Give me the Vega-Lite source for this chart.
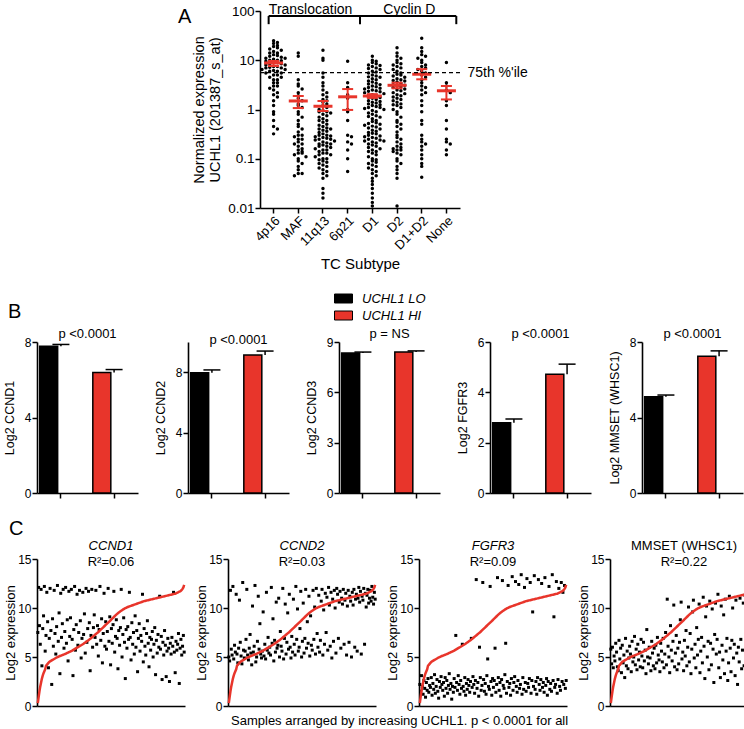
{
"$schema":"https://vega.github.io/schema/vega-lite/v6.json",
"background":"white",
"padding":{"left":3,"top":2,"right":0,"bottom":2},
"config":{
 "font":"Liberation Sans",
 "view":{"stroke":null},
 "axis":{"domainColor":"black","domainWidth":1.6,"tickColor":"black","tickWidth":1.5,"tickSize":5,"labelColor":"black","labelFont":"Liberation Sans","labelFontSize":12,"labelPadding":1,"titleFont":"Liberation Sans","titleFontWeight":"normal","titleColor":"black","titleFontSize":13,"grid":false},
 "title":{"font":"Liberation Sans","fontWeight":"normal","color":"black","fontSize":13,"subtitleFont":"Liberation Sans","subtitleColor":"black","subtitleFontSize":13,"subtitlePadding":0},
 "legend":{"labelFont":"Liberation Sans","labelColor":"black"},
 "tick":{"opacity":1}
},
"datasets":{
"pa":[
{"c":"4p16","v":25},{"c":"4p16","v":22},{"c":"4p16","v":23},{"c":"4p16","v":20},{"c":"4p16","v":19},{"c":"4p16","v":18},{"c":"4p16","v":17},{"c":"4p16","v":16},{"c":"4p16","v":15},{"c":"4p16","v":14},{"c":"4p16","v":14},{"c":"4p16","v":13},{"c":"4p16","v":12.5},{"c":"4p16","v":12},{"c":"4p16","v":11.5},{"c":"4p16","v":11},{"c":"4p16","v":11},{"c":"4p16","v":10.5},{"c":"4p16","v":10},{"c":"4p16","v":10},{"c":"4p16","v":9.8},{"c":"4p16","v":9.5},{"c":"4p16","v":9},{"c":"4p16","v":9},{"c":"4p16","v":8.5},{"c":"4p16","v":8.5},{"c":"4p16","v":8},{"c":"4p16","v":8},{"c":"4p16","v":7.5},{"c":"4p16","v":7.5},{"c":"4p16","v":7.2},{"c":"4p16","v":7},{"c":"4p16","v":7},{"c":"4p16","v":6.5},{"c":"4p16","v":6.5},{"c":"4p16","v":6.2},{"c":"4p16","v":6},{"c":"4p16","v":6},{"c":"4p16","v":5.5},{"c":"4p16","v":5.5},{"c":"4p16","v":5},{"c":"4p16","v":5},{"c":"4p16","v":4.5},{"c":"4p16","v":4.5},{"c":"4p16","v":4},{"c":"4p16","v":4},{"c":"4p16","v":3.5},{"c":"4p16","v":3.5},{"c":"4p16","v":3},{"c":"4p16","v":3},{"c":"4p16","v":2.7},{"c":"4p16","v":2.5},{"c":"4p16","v":2.2},{"c":"4p16","v":2},{"c":"4p16","v":1.8},{"c":"4p16","v":1.5},{"c":"4p16","v":1.2},{"c":"4p16","v":0.9},{"c":"4p16","v":0.8},{"c":"4p16","v":0.6},{"c":"4p16","v":0.45},{"c":"4p16","v":0.4},{"c":"4p16","v":0.32},
{"c":"MAF","v":14},{"c":"MAF","v":12},{"c":"MAF","v":4},{"c":"MAF","v":3.3},{"c":"MAF","v":3},{"c":"MAF","v":2.6},{"c":"MAF","v":2.2},{"c":"MAF","v":1.9},{"c":"MAF","v":1.7},{"c":"MAF","v":1.5},{"c":"MAF","v":1.3},{"c":"MAF","v":1.2},{"c":"MAF","v":1.1},{"c":"MAF","v":0.9},{"c":"MAF","v":0.8},{"c":"MAF","v":0.7},{"c":"MAF","v":0.6},{"c":"MAF","v":0.5},{"c":"MAF","v":0.45},{"c":"MAF","v":0.4},{"c":"MAF","v":0.35},{"c":"MAF","v":0.3},{"c":"MAF","v":0.3},{"c":"MAF","v":0.28},{"c":"MAF","v":0.25},{"c":"MAF","v":0.25},{"c":"MAF","v":0.22},{"c":"MAF","v":0.2},{"c":"MAF","v":0.2},{"c":"MAF","v":0.18},{"c":"MAF","v":0.16},{"c":"MAF","v":0.15},{"c":"MAF","v":0.14},{"c":"MAF","v":0.13},{"c":"MAF","v":0.13},{"c":"MAF","v":0.12},{"c":"MAF","v":0.11},{"c":"MAF","v":0.1},{"c":"MAF","v":0.09},{"c":"MAF","v":0.08},{"c":"MAF","v":0.07},{"c":"MAF","v":0.06},{"c":"MAF","v":0.05},{"c":"MAF","v":0.05},{"c":"MAF","v":0.045},
{"c":"11q13","v":16},{"c":"11q13","v":11},{"c":"11q13","v":10},{"c":"11q13","v":5.5},{"c":"11q13","v":4.5},{"c":"11q13","v":3.5},{"c":"11q13","v":3},{"c":"11q13","v":2.5},{"c":"11q13","v":2.2},{"c":"11q13","v":2},{"c":"11q13","v":1.8},{"c":"11q13","v":1.6},{"c":"11q13","v":1.5},{"c":"11q13","v":1.4},{"c":"11q13","v":1.3},{"c":"11q13","v":1.2},{"c":"11q13","v":1.1},{"c":"11q13","v":1},{"c":"11q13","v":0.95},{"c":"11q13","v":0.9},{"c":"11q13","v":0.9},{"c":"11q13","v":0.85},{"c":"11q13","v":0.8},{"c":"11q13","v":0.75},{"c":"11q13","v":0.7},{"c":"11q13","v":0.65},{"c":"11q13","v":0.6},{"c":"11q13","v":0.6},{"c":"11q13","v":0.55},{"c":"11q13","v":0.5},{"c":"11q13","v":0.48},{"c":"11q13","v":0.45},{"c":"11q13","v":0.42},{"c":"11q13","v":0.4},{"c":"11q13","v":0.4},{"c":"11q13","v":0.38},{"c":"11q13","v":0.36},{"c":"11q13","v":0.34},{"c":"11q13","v":0.32},{"c":"11q13","v":0.3},{"c":"11q13","v":0.3},{"c":"11q13","v":0.29},{"c":"11q13","v":0.28},{"c":"11q13","v":0.27},{"c":"11q13","v":0.26},{"c":"11q13","v":0.25},{"c":"11q13","v":0.25},{"c":"11q13","v":0.24},{"c":"11q13","v":0.23},{"c":"11q13","v":0.22},{"c":"11q13","v":0.21},{"c":"11q13","v":0.2},{"c":"11q13","v":0.2},{"c":"11q13","v":0.19},{"c":"11q13","v":0.18},{"c":"11q13","v":0.18},{"c":"11q13","v":0.17},{"c":"11q13","v":0.16},{"c":"11q13","v":0.15},{"c":"11q13","v":0.15},{"c":"11q13","v":0.14},{"c":"11q13","v":0.13},{"c":"11q13","v":0.13},{"c":"11q13","v":0.12},{"c":"11q13","v":0.12},{"c":"11q13","v":0.11},{"c":"11q13","v":0.1},{"c":"11q13","v":0.1},{"c":"11q13","v":0.095},{"c":"11q13","v":0.09},{"c":"11q13","v":0.085},{"c":"11q13","v":0.08},{"c":"11q13","v":0.075},{"c":"11q13","v":0.07},{"c":"11q13","v":0.065},{"c":"11q13","v":0.06},{"c":"11q13","v":0.055},{"c":"11q13","v":0.05},{"c":"11q13","v":0.045},{"c":"11q13","v":0.04},{"c":"11q13","v":0.025},{"c":"11q13","v":0.02},{"c":"11q13","v":0.016},
{"c":"6p21","v":9.5},{"c":"6p21","v":3.5},{"c":"6p21","v":2.8},{"c":"6p21","v":2},{"c":"6p21","v":1.7},{"c":"6p21","v":1},{"c":"6p21","v":0.9},{"c":"6p21","v":0.6},{"c":"6p21","v":0.3},{"c":"6p21","v":0.28},{"c":"6p21","v":0.22},{"c":"6p21","v":0.2},{"c":"6p21","v":0.15},{"c":"6p21","v":0.1},{"c":"6p21","v":0.055},
{"c":"D1","v":12},{"c":"D1","v":10},{"c":"D1","v":9.5},{"c":"D1","v":9},{"c":"D1","v":8.5},{"c":"D1","v":8},{"c":"D1","v":7.8},{"c":"D1","v":7.5},{"c":"D1","v":7},{"c":"D1","v":6.8},{"c":"D1","v":6.5},{"c":"D1","v":6},{"c":"D1","v":5.8},{"c":"D1","v":5.5},{"c":"D1","v":5},{"c":"D1","v":4.8},{"c":"D1","v":4.6},{"c":"D1","v":4.5},{"c":"D1","v":4.2},{"c":"D1","v":4},{"c":"D1","v":3.8},{"c":"D1","v":3.6},{"c":"D1","v":3.4},{"c":"D1","v":3.3},{"c":"D1","v":3.2},{"c":"D1","v":3},{"c":"D1","v":2.9},{"c":"D1","v":2.8},{"c":"D1","v":2.7},{"c":"D1","v":2.6},{"c":"D1","v":2.5},{"c":"D1","v":2.4},{"c":"D1","v":2.35},{"c":"D1","v":2.3},{"c":"D1","v":2.2},{"c":"D1","v":2.1},{"c":"D1","v":2},{"c":"D1","v":1.9},{"c":"D1","v":1.8},{"c":"D1","v":1.75},{"c":"D1","v":1.7},{"c":"D1","v":1.6},{"c":"D1","v":1.5},{"c":"D1","v":1.45},{"c":"D1","v":1.4},{"c":"D1","v":1.35},{"c":"D1","v":1.3},{"c":"D1","v":1.25},{"c":"D1","v":1.2},{"c":"D1","v":1.15},{"c":"D1","v":1.1},{"c":"D1","v":1.1},{"c":"D1","v":1.05},{"c":"D1","v":1},{"c":"D1","v":0.95},{"c":"D1","v":0.9},{"c":"D1","v":0.85},{"c":"D1","v":0.8},{"c":"D1","v":0.75},{"c":"D1","v":0.72},{"c":"D1","v":0.7},{"c":"D1","v":0.65},{"c":"D1","v":0.6},{"c":"D1","v":0.57},{"c":"D1","v":0.54},{"c":"D1","v":0.52},{"c":"D1","v":0.5},{"c":"D1","v":0.48},{"c":"D1","v":0.46},{"c":"D1","v":0.44},{"c":"D1","v":0.42},{"c":"D1","v":0.4},{"c":"D1","v":0.38},{"c":"D1","v":0.36},{"c":"D1","v":0.34},{"c":"D1","v":0.33},{"c":"D1","v":0.32},{"c":"D1","v":0.3},{"c":"D1","v":0.29},{"c":"D1","v":0.28},{"c":"D1","v":0.27},{"c":"D1","v":0.26},{"c":"D1","v":0.25},{"c":"D1","v":0.24},{"c":"D1","v":0.23},{"c":"D1","v":0.23},{"c":"D1","v":0.22},{"c":"D1","v":0.21},{"c":"D1","v":0.2},{"c":"D1","v":0.19},{"c":"D1","v":0.18},{"c":"D1","v":0.17},{"c":"D1","v":0.16},{"c":"D1","v":0.15},{"c":"D1","v":0.14},{"c":"D1","v":0.14},{"c":"D1","v":0.13},{"c":"D1","v":0.12},{"c":"D1","v":0.11},{"c":"D1","v":0.1},{"c":"D1","v":0.095},{"c":"D1","v":0.09},{"c":"D1","v":0.085},{"c":"D1","v":0.08},{"c":"D1","v":0.075},{"c":"D1","v":0.07},{"c":"D1","v":0.065},{"c":"D1","v":0.06},{"c":"D1","v":0.055},{"c":"D1","v":0.05},{"c":"D1","v":0.045},{"c":"D1","v":0.04},{"c":"D1","v":0.035},{"c":"D1","v":0.03},{"c":"D1","v":0.025},{"c":"D1","v":0.02},{"c":"D1","v":0.016},{"c":"D1","v":0.013},{"c":"D1","v":0.011},
{"c":"D2","v":18},{"c":"D2","v":14},{"c":"D2","v":12},{"c":"D2","v":11},{"c":"D2","v":10},{"c":"D2","v":9},{"c":"D2","v":8.5},{"c":"D2","v":8},{"c":"D2","v":7.5},{"c":"D2","v":7},{"c":"D2","v":6.5},{"c":"D2","v":6},{"c":"D2","v":5.5},{"c":"D2","v":5.2},{"c":"D2","v":5},{"c":"D2","v":4.8},{"c":"D2","v":4.5},{"c":"D2","v":4.2},{"c":"D2","v":4},{"c":"D2","v":3.9},{"c":"D2","v":3.8},{"c":"D2","v":3.6},{"c":"D2","v":3.4},{"c":"D2","v":3.2},{"c":"D2","v":3.1},{"c":"D2","v":3},{"c":"D2","v":2.9},{"c":"D2","v":2.8},{"c":"D2","v":2.6},{"c":"D2","v":2.5},{"c":"D2","v":2.4},{"c":"D2","v":2.2},{"c":"D2","v":2.1},{"c":"D2","v":2},{"c":"D2","v":1.9},{"c":"D2","v":1.8},{"c":"D2","v":1.7},{"c":"D2","v":1.6},{"c":"D2","v":1.5},{"c":"D2","v":1.4},{"c":"D2","v":1.3},{"c":"D2","v":1.25},{"c":"D2","v":1.2},{"c":"D2","v":1.1},{"c":"D2","v":1},{"c":"D2","v":0.9},{"c":"D2","v":0.8},{"c":"D2","v":0.7},{"c":"D2","v":0.6},{"c":"D2","v":0.55},{"c":"D2","v":0.5},{"c":"D2","v":0.45},{"c":"D2","v":0.4},{"c":"D2","v":0.35},{"c":"D2","v":0.3},{"c":"D2","v":0.27},{"c":"D2","v":0.25},{"c":"D2","v":0.22},{"c":"D2","v":0.2},{"c":"D2","v":0.18},{"c":"D2","v":0.17},{"c":"D2","v":0.16},{"c":"D2","v":0.15},{"c":"D2","v":0.15},{"c":"D2","v":0.14},{"c":"D2","v":0.13},{"c":"D2","v":0.12},{"c":"D2","v":0.1},{"c":"D2","v":0.09},{"c":"D2","v":0.08},{"c":"D2","v":0.07},{"c":"D2","v":0.06},{"c":"D2","v":0.05},{"c":"D2","v":0.04},{"c":"D2","v":0.011},
{"c":"D1+D2","v":28},{"c":"D1+D2","v":18},{"c":"D1+D2","v":15},{"c":"D1+D2","v":13},{"c":"D1+D2","v":12},{"c":"D1+D2","v":11},{"c":"D1+D2","v":10},{"c":"D1+D2","v":9},{"c":"D1+D2","v":8},{"c":"D1+D2","v":7.5},{"c":"D1+D2","v":7},{"c":"D1+D2","v":6.5},{"c":"D1+D2","v":6},{"c":"D1+D2","v":5.5},{"c":"D1+D2","v":5},{"c":"D1+D2","v":4.5},{"c":"D1+D2","v":4},{"c":"D1+D2","v":3.5},{"c":"D1+D2","v":3},{"c":"D1+D2","v":2.8},{"c":"D1+D2","v":2.5},{"c":"D1+D2","v":2.2},{"c":"D1+D2","v":2},{"c":"D1+D2","v":1.5},{"c":"D1+D2","v":1.2},{"c":"D1+D2","v":0.9},{"c":"D1+D2","v":0.6},{"c":"D1+D2","v":0.5},{"c":"D1+D2","v":0.3},{"c":"D1+D2","v":0.25},{"c":"D1+D2","v":0.22},{"c":"D1+D2","v":0.2},{"c":"D1+D2","v":0.18},{"c":"D1+D2","v":0.15},{"c":"D1+D2","v":0.12},{"c":"D1+D2","v":0.1},{"c":"D1+D2","v":0.08},{"c":"D1+D2","v":0.07},{"c":"D1+D2","v":0.042},
{"c":"None","v":9},{"c":"None","v":3.5},{"c":"None","v":3},{"c":"None","v":2.5},{"c":"None","v":2.2},{"c":"None","v":1.5},{"c":"None","v":1.2},{"c":"None","v":0.6},{"c":"None","v":0.4},{"c":"None","v":0.25},{"c":"None","v":0.22},{"c":"None","v":0.2},{"c":"None","v":0.15},{"c":"None","v":0.12}
],
"pam":[
{"c":"4p16","m":8.8,"lo":7.6,"hi":9.7},{"c":"MAF","m":1.49,"lo":1.07,"hi":1.88},{"c":"11q13","m":1.17,"lo":0.93,"hi":1.49},{"c":"6p21","m":1.81,"lo":0.98,"hi":2.6},{"c":"D1","m":1.88,"lo":1.72,"hi":2.05},{"c":"D2","m":3.1,"lo":2.7,"hi":3.5},{"c":"D1+D2","m":5.2,"lo":4.1,"hi":6.6},{"c":"None","m":2.4,"lo":1.6,"hi":3.0}
],
"pb":[
{"gene":"CCND1","g":"UCHL1 LO","m":7.78,"hi":7.87},{"gene":"CCND1","g":"UCHL1 HI","m":6.39,"hi":6.54},
{"gene":"CCND2","g":"UCHL1 LO","m":7.97,"hi":8.15},{"gene":"CCND2","g":"UCHL1 HI","m":9.14,"hi":9.4},
{"gene":"CCND3","g":"UCHL1 LO","m":8.35,"hi":8.4},{"gene":"CCND3","g":"UCHL1 HI","m":8.41,"hi":8.47},
{"gene":"FGFR3","g":"UCHL1 LO","m":2.79,"hi":2.94},{"gene":"FGFR3","g":"UCHL1 HI","m":4.72,"hi":5.12},
{"gene":"MMSET","g":"UCHL1 LO","m":5.1,"hi":5.19},{"gene":"MMSET","g":"UCHL1 HI","m":7.25,"hi":7.53}
],
"pc":[
{"u":0.3,"a":7.5,"b":5.0,"f":2.2,"m":5.8},{"u":0.9,"a":12.1,"b":4.6,"f":1.5,"m":4.3},{"u":1.5,"a":8.2,"b":11.8,"f":3.1,"m":6.0},{"u":2.0,"a":6.3,"b":5.8,"f":2.0,"m":3.9},{"u":2.4,"a":11.9,"b":5.2,"f":1.2,"m":5.1},{"u":2.8,"a":4.1,"b":12.2,"f":2.6,"m":4.6},{"u":3.1,"a":7.9,"b":4.8,"f":1.8,"m":6.4},{"u":3.35,"a":9.2,"b":6.2,"f":0.9,"m":5.5},{"u":3.55,"a":12.2,"b":5.5,"f":2.4,"m":4.0},{"u":3.75,"a":5.6,"b":11.4,"f":1.6,"m":3.6},
{"u":4.1,"a":7.2,"b":5.3,"f":2.8,"m":6.7},{"u":4.2,"a":11.6,"b":4.4,"f":1.4,"m":4.8},{"u":4.3,"a":8.6,"b":5.9,"f":2.1,"m":5.9},{"u":4.4,"a":3.9,"b":10.8,"f":1.9,"m":3.4},{"u":4.5,"a":6.9,"b":6.5,"f":2.9,"m":6.2},{"u":4.55,"a":12.0,"b":5.1,"f":1.1,"m":4.4},{"u":4.6,"a":7.7,"b":4.3,"f":2.3,"m":5.2},{"u":4.65,"a":2.2,"b":12.6,"f":1.7,"m":2.9},{"u":4.7,"a":8.9,"b":5.7,"f":3.2,"m":6.9},{"u":4.75,"a":6.1,"b":4.9,"f":1.3,"m":4.1},
{"u":4.8,"a":11.8,"b":5.6,"f":2.0,"m":5.6},{"u":4.85,"a":7.4,"b":6.8,"f":2.7,"m":3.8},{"u":4.9,"a":5.3,"b":11.9,"f":1.5,"m":4.9},{"u":4.95,"a":8.1,"b":5.2,"f":0.8,"m":6.1},{"u":4.98,"a":12.3,"b":4.7,"f":2.5,"m":5.3},{"u":5.02,"a":6.6,"b":5.9,"f":1.9,"m":3.5},{"u":5.06,"a":9.5,"b":7.3,"f":3.0,"m":6.6},{"u":5.1,"a":3.3,"b":5.4,"f":2.2,"m":4.5},{"u":5.13,"a":11.5,"b":4.2,"f":1.6,"m":5.0},{"u":5.16,"a":7.0,"b":10.2,"f":2.4,"m":7.1},
{"u":5.2,"a":8.4,"b":5.5,"f":1.0,"m":4.2},{"u":5.23,"a":11.9,"b":6.1,"f":2.9,"m":5.8},{"u":5.26,"a":5.9,"b":12.3,"f":1.8,"m":3.7},{"u":5.3,"a":7.6,"b":4.5,"f":2.6,"m":6.3},{"u":5.33,"a":12.1,"b":5.0,"f":1.3,"m":4.7},{"u":5.37,"a":6.4,"b":6.6,"f":2.1,"m":5.5},{"u":5.41,"a":8.8,"b":11.2,"f":3.3,"m":4.0},{"u":5.45,"a":4.6,"b":5.8,"f":1.7,"m":6.8},{"u":5.49,"a":11.7,"b":8.4,"f":2.3,"m":5.1},{"u":5.53,"a":7.1,"b":5.3,"f":0.7,"m":3.9},
{"u":5.57,"a":9.0,"b":4.9,"f":2.0,"m":6.5},{"u":5.61,"a":11.9,"b":5.6,"f":1.4,"m":4.6},{"u":5.65,"a":6.8,"b":9.6,"f":2.8,"m":5.7},{"u":5.7,"a":3.1,"b":5.1,"f":1.9,"m":3.3},{"u":5.75,"a":7.8,"b":6.3,"f":7.2,"m":7.8},{"u":5.8,"a":12.2,"b":4.8,"f":2.4,"m":5.0},{"u":5.85,"a":5.7,"b":11.6,"f":1.6,"m":4.3},{"u":5.9,"a":8.3,"b":5.7,"f":3.1,"m":6.0},{"u":5.95,"a":11.4,"b":7.0,"f":2.2,"m":4.9},{"u":6.0,"a":6.2,"b":5.4,"f":1.2,"m":3.6},
{"u":6.05,"a":7.5,"b":6.0,"f":2.6,"m":6.6},{"u":6.1,"a":11.8,"b":5.2,"f":1.8,"m":5.4},{"u":6.15,"a":8.7,"b":12.1,"f":6.3,"m":4.1},{"u":6.2,"a":4.9,"b":6.4,"f":2.0,"m":5.9},{"u":6.25,"a":6.9,"b":8.9,"f":1.5,"m":3.8},{"u":6.3,"a":11.6,"b":4.6,"f":2.9,"m":6.2},{"u":6.36,"a":7.3,"b":6.7,"f":1.1,"m":4.4},{"u":6.42,"a":9.4,"b":5.5,"f":2.3,"m":7.0},{"u":6.48,"a":5.4,"b":10.6,"f":1.7,"m":5.2},{"u":6.54,"a":12.0,"b":5.9,"f":2.7,"m":4.7},
{"u":6.6,"a":6.5,"b":6.2,"f":2.1,"m":3.5},{"u":6.66,"a":7.9,"b":11.0,"f":1.4,"m":6.4},{"u":6.72,"a":11.7,"b":5.0,"f":2.5,"m":5.6},{"u":6.78,"a":8.5,"b":7.6,"f":6.9,"m":4.5},{"u":6.85,"a":3.6,"b":6.1,"f":1.9,"m":6.9},{"u":6.92,"a":7.2,"b":5.6,"f":3.0,"m":3.9},{"u":6.99,"a":11.9,"b":12.0,"f":2.2,"m":5.3},{"u":7.06,"a":6.0,"b":4.8,"f":1.3,"m":7.5},{"u":7.13,"a":8.0,"b":6.9,"f":2.6,"m":4.2},{"u":7.2,"a":9.3,"b":10.4,"f":12.9,"m":10.9},
{"u":7.27,"a":7.0,"b":5.3,"f":1.8,"m":6.1},{"u":7.34,"a":11.8,"b":6.5,"f":2.4,"m":5.0},{"u":7.41,"a":6.3,"b":9.5,"f":1.0,"m":3.4},{"u":7.48,"a":8.2,"b":5.8,"f":6.0,"m":8.2},{"u":7.55,"a":5.1,"b":11.4,"f":2.9,"m":5.7},{"u":7.63,"a":7.8,"b":6.0,"f":1.6,"m":4.6},{"u":7.71,"a":12.2,"b":4.9,"f":2.1,"m":6.6},{"u":7.79,"a":6.7,"b":7.1,"f":12.6,"m":10.3},{"u":7.87,"a":8.9,"b":5.5,"f":2.7,"m":4.0},{"u":7.95,"a":4.4,"b":10.9,"f":1.5,"m":5.4},
{"u":8.03,"a":7.4,"b":6.3,"f":2.3,"m":7.2},{"u":8.11,"a":11.5,"b":5.2,"f":1.2,"m":3.7},{"u":8.19,"a":6.1,"b":12.2,"f":3.1,"m":5.9},{"u":8.27,"a":8.6,"b":6.8,"f":4.8,"m":4.3},{"u":8.35,"a":5.8,"b":9.9,"f":2.0,"m":6.5},{"u":8.43,"a":7.6,"b":5.6,"f":1.7,"m":8.8},{"u":8.51,"a":12.0,"b":6.0,"f":12.2,"m":10.6},{"u":8.59,"a":6.6,"b":7.9,"f":2.5,"m":4.8},{"u":8.67,"a":9.1,"b":11.7,"f":1.1,"m":5.5},{"u":8.75,"a":4.2,"b":5.0,"f":2.8,"m":3.6},
{"u":8.84,"a":7.9,"b":6.6,"f":1.9,"m":6.7},{"u":8.92,"a":6.4,"b":10.5,"f":2.6,"m":5.1},{"u":9.0,"a":8.3,"b":5.4,"f":5.9,"m":7.7},{"u":9.08,"a":11.7,"b":6.9,"f":1.4,"m":4.1},{"u":9.16,"a":5.5,"b":11.9,"f":2.2,"m":6.0},{"u":9.24,"a":7.1,"b":5.9,"f":13.1,"m":10.1},{"u":9.32,"a":8.8,"b":8.6,"f":2.9,"m":4.5},{"u":9.4,"a":6.9,"b":6.4,"f":1.6,"m":7.4},{"u":9.47,"a":3.8,"b":11.2,"f":2.4,"m":3.3},{"u":9.54,"a":7.7,"b":5.1,"f":1.0,"m":5.8},
{"u":9.6,"a":6.2,"b":9.2,"f":2.7,"m":9.6},{"u":9.66,"a":8.0,"b":6.2,"f":12.8,"m":10.8},{"u":9.72,"a":11.9,"b":5.7,"f":2.1,"m":4.9},{"u":9.78,"a":5.0,"b":11.8,"f":1.8,"m":6.3},{"u":9.84,"a":7.3,"b":6.8,"f":3.2,"m":3.9},{"u":9.89,"a":9.0,"b":10.1,"f":6.4,"m":8.0},{"u":9.94,"a":6.5,"b":5.3,"f":1.3,"m":5.2},{"u":9.98,"a":2.8,"b":12.0,"f":2.5,"m":6.8},{"u":10.02,"a":7.8,"b":7.4,"f":12.3,"m":10.4},{"u":10.06,"a":5.9,"b":6.0,"f":1.9,"m":3.4},
{"u":10.1,"a":8.1,"b":11.3,"f":2.3,"m":5.6},{"u":10.13,"a":6.8,"b":5.5,"f":1.1,"m":7.0},{"u":10.16,"a":11.6,"b":6.7,"f":2.8,"m":4.4},{"u":10.19,"a":7.0,"b":10.7,"f":13.2,"m":11.1},{"u":10.22,"a":4.7,"b":11.9,"f":1.6,"m":6.1},{"u":10.25,"a":8.5,"b":5.2,"f":2.4,"m":2.8},{"u":10.28,"a":6.3,"b":9.8,"f":3.0,"m":9.1},{"u":10.31,"a":7.5,"b":6.3,"f":12.7,"m":10.2},{"u":10.34,"a":5.3,"b":11.5,"f":2.0,"m":5.0},{"u":10.37,"a":9.2,"b":7.5,"f":1.4,"m":6.6},
{"u":10.4,"a":6.0,"b":11.1,"f":2.6,"m":3.7},{"u":10.43,"a":7.7,"b":5.7,"f":12.4,"m":10.7},{"u":10.46,"a":3.5,"b":12.1,"f":1.8,"m":6.4},{"u":10.49,"a":6.9,"b":10.3,"f":2.2,"m":4.2},{"u":10.52,"a":8.4,"b":6.1,"f":13.4,"m":9.9},{"u":10.55,"a":5.6,"b":11.6,"f":1.2,"m":5.8},{"u":10.58,"a":7.2,"b":4.9,"f":2.9,"m":2.4},{"u":10.61,"a":6.6,"b":10.9,"f":1.7,"m":7.3},{"u":10.64,"a":11.4,"b":6.6,"f":12.1,"m":10.5},{"u":10.67,"a":4.5,"b":11.8,"f":2.4,"m":5.3},
{"u":10.7,"a":7.9,"b":10.0,"f":1.5,"m":6.8},{"u":10.72,"a":6.1,"b":5.4,"f":13.0,"m":11.4},{"u":10.74,"a":5.2,"b":12.0,"f":2.3,"m":3.9},{"u":10.76,"a":7.4,"b":11.4,"f":1.9,"m":5.5},{"u":10.78,"a":8.7,"b":6.9,"f":2.8,"m":2.9},{"u":10.8,"a":6.4,"b":10.6,"f":12.6,"m":10.2},{"u":10.82,"a":4.0,"b":11.7,"f":1.3,"m":6.2},{"u":10.84,"a":7.0,"b":5.9,"f":2.6,"m":4.7},{"u":10.86,"a":5.7,"b":11.0,"f":9.6,"m":9.3},{"u":10.88,"a":6.8,"b":10.4,"f":2.0,"m":3.3},
{"u":10.9,"a":7.6,"b":11.9,"f":13.3,"m":10.9},{"u":10.92,"a":5.0,"b":6.3,"f":1.7,"m":5.6},{"u":10.94,"a":6.3,"b":10.8,"f":2.5,"m":6.9},{"u":10.96,"a":8.0,"b":11.5,"f":1.2,"m":2.6},{"u":10.98,"a":3.2,"b":5.2,"f":2.9,"m":4.4},{"u":11.0,"a":6.7,"b":10.2,"f":12.9,"m":11.2},{"u":11.02,"a":5.4,"b":11.8,"f":2.2,"m":5.9},{"u":11.04,"a":7.3,"b":6.5,"f":1.6,"m":3.5},{"u":11.06,"a":6.0,"b":11.2,"f":2.7,"m":6.7},{"u":11.08,"a":11.2,"b":10.7,"f":12.5,"m":10.0},
{"u":11.1,"a":5.8,"b":5.0,"f":1.9,"m":4.9},{"u":11.12,"a":7.1,"b":11.6,"f":2.4,"m":6.3},{"u":11.14,"a":2.7,"b":10.3,"f":1.4,"m":3.1},{"u":11.16,"a":6.5,"b":11.9,"f":13.1,"m":10.8},{"u":11.18,"a":5.2,"b":6.0,"f":2.1,"m":5.4},{"u":11.2,"a":7.7,"b":10.9,"f":2.8,"m":2.2},{"u":11.22,"a":6.2,"b":11.4,"f":1.1,"m":6.0},{"u":11.24,"a":3.0,"b":5.6,"f":2.5,"m":4.5},{"u":11.26,"a":5.6,"b":11.0,"f":12.2,"m":11.0},{"u":11.28,"a":6.9,"b":12.1,"f":1.7,"m":6.8},
{"u":11.3,"a":5.9,"b":10.6,"f":2.3,"m":3.8},{"u":11.32,"a":2.5,"b":11.7,"f":1.5,"m":5.7},{"u":11.34,"a":6.4,"b":5.3,"f":13.4,"m":10.5},{"u":11.36,"a":5.3,"b":11.2,"f":2.6,"m":4.1},{"u":11.38,"a":7.0,"b":10.8,"f":9.1,"m":11.3},{"u":11.4,"a":6.1,"b":12.0,"f":1.9,"m":6.5},{"u":11.42,"a":11.6,"b":6.3,"f":2.2,"m":2.5},{"u":11.44,"a":5.5,"b":11.5,"f":12.7,"m":10.3},{"u":11.46,"a":3.4,"b":10.1,"f":1.3,"m":5.1},{"u":11.5,"a":6.6,"b":11.3,"f":2.7,"m":6.2},
{"u":11.54,"a":5.7,"b":11.9,"f":12.0,"m":10.9},{"u":11.58,"a":6.3,"b":10.5,"f":2.0,"m":6.9},{"u":11.62,"a":7.4,"b":11.0,"f":1.6,"m":4.0},{"u":11.66,"a":2.3,"b":11.8,"f":12.6,"m":11.6},{"u":11.7,"a":5.9,"b":10.7,"f":2.5,"m":6.4},{"u":11.76,"a":6.8,"b":12.2,"f":11.6,"m":10.2},{"u":11.84,"a":5.2,"b":11.1,"f":2.2,"m":5.0},{"u":11.95,"a":6.1,"b":10.4,"f":12.3,"m":10.7},{"u":12.1,"a":7.2,"b":11.6,"f":1.8,"m":6.8},{"u":12.35,"a":5.5,"b":10.9,"f":2.6,"m":11.0}
]
},
"title":{"text":"Samples arranged by increasing UCHL1. p < 0.0001 for all","orient":"bottom","anchor":"middle","fontSize":13,"offset":3,"dx":17},
"spacing":20,
"vconcat":[
{"spacing":30,"vconcat":[
 {"spacing":13,"hconcat":[
  {"width":128,"height":10,"data":{"values":[]},"mark":{"type":"point","opacity":0},"encoding":{}},
  {"width":200,"height":197,
   "title":{"text":"A","anchor":"start","frame":"group","fontSize":20,"dx":-82,"offset":-24},
   "layer":[
    {"data":{"name":"pa"},
     "transform":[
      {"calculate":"floor(log(datum.v)/LN10/0.08)","as":"bin"},
      {"window":[{"op":"row_number","as":"r"}],"groupby":["c","bin"]},
      {"calculate":"datum.r % 2 == 0 ? datum.r/2 : -(datum.r-1)/2","as":"off"}
     ],
     "mark":{"type":"circle","size":12,"color":"black","opacity":1},
     "encoding":{
      "x":{"field":"c","type":"nominal","sort":["4p16","MAF","11q13","6p21","D1","D2","D1+D2","None"],"scale":{"type":"band","domain":["4p16","MAF","11q13","6p21","D1","D2","D1+D2","None"],"paddingInner":0,"paddingOuter":0.05},"axis":{"title":"TC Subtype","labelAngle":-45,"labelFontSize":13,"titleFontSize":15,"titlePadding":4}},
      "xOffset":{"field":"off","type":"quantitative","scale":{"domain":[-3.2,3.2]}},
      "y":{"field":"v","type":"quantitative","scale":{"type":"log","domain":[0.01,100],"nice":false},"axis":{"values":[0.01,0.1,1,10,100],"format":".2~f","title":["Normalized expression","UCHL1 (201387_s_at)"],"titleFontSize":14.5,"labelFontSize":13.5,"titlePadding":5}}
     }},
    {"data":{"name":"pam"},"mark":{"type":"rule","color":"#e8352b","strokeWidth":2},"encoding":{"x":{"field":"c","type":"nominal"},"y":{"field":"lo","type":"quantitative"},"y2":{"field":"hi"}}},
    {"data":{"name":"pam"},"mark":{"type":"tick","color":"#e8352b","thickness":2,"size":11,"opacity":1},"encoding":{"x":{"field":"c","type":"nominal"},"y":{"field":"lo","type":"quantitative"}}},
    {"data":{"name":"pam"},"mark":{"type":"tick","color":"#e8352b","thickness":2,"size":11,"opacity":1},"encoding":{"x":{"field":"c","type":"nominal"},"y":{"field":"hi","type":"quantitative"}}},
    {"data":{"name":"pam"},"mark":{"type":"tick","color":"#e8352b","thickness":3,"size":19,"opacity":1},"encoding":{"x":{"field":"c","type":"nominal"},"y":{"field":"m","type":"quantitative"}}},
    {"data":{"values":[{}]},"mark":{"type":"rule","strokeDash":[4,3],"strokeWidth":1.2,"color":"black"},"encoding":{"y":{"datum":5.6}}},
    {"data":{"values":[{}]},"mark":{"type":"text","text":"75th %'ile","align":"left","baseline":"middle","fontSize":14,"dx":21},"encoding":{"x":{"datum":"None"},"y":{"datum":5.6}}},
    {"data":{"values":[{}]},"mark":{"type":"rule","strokeWidth":2,"color":"black"},"encoding":{"x":{"datum":"4p16","bandPosition":0.3},"x2":{"datum":"D1","bandPosition":0},"y":{"datum":79}}},
    {"data":{"values":[{}]},"mark":{"type":"rule","strokeWidth":2,"color":"black"},"encoding":{"x":{"datum":"D1","bandPosition":0},"x2":{"datum":"None","bandPosition":0.9},"y":{"datum":79}}},
    {"data":{"values":[{}]},"mark":{"type":"rule","strokeWidth":2,"color":"black"},"encoding":{"x":{"datum":"4p16","bandPosition":0.3},"y":{"datum":79},"y2":{"datum":54}}},
    {"data":{"values":[{}]},"mark":{"type":"rule","strokeWidth":2,"color":"black"},"encoding":{"x":{"datum":"D1","bandPosition":0},"y":{"datum":79},"y2":{"datum":54}}},
    {"data":{"values":[{}]},"mark":{"type":"rule","strokeWidth":2,"color":"black"},"encoding":{"x":{"datum":"None","bandPosition":0.9},"y":{"datum":79},"y2":{"datum":54}}},
    {"data":{"values":[{}]},"mark":{"type":"text","text":"Translocation","align":"center","baseline":"alphabetic","fontSize":14},"encoding":{"x":{"datum":"MAF","bandPosition":1},"y":{"datum":88}}},
    {"data":{"values":[{}]},"mark":{"type":"text","text":"Cyclin D","align":"center","baseline":"alphabetic","fontSize":14},"encoding":{"x":{"datum":"D2","bandPosition":1},"y":{"datum":88}}}
   ]}
 ]},
 {"spacing":16,
  "title":{"text":"B","anchor":"start","frame":"bounds","fontSize":20,"dx":5,"offset":6},
  "hconcat":[
   {"width":101,"height":151,"title":{"text":"p <0.0001","offset":-5},"data":{"name":"pb"},"transform":[{"filter":"datum.gene=='CCND1'"}],
    "encoding":{"x":{"field":"g","type":"nominal","sort":["UCHL1 LO","UCHL1 HI"],"scale":{"type":"band","paddingInner":0.2,"paddingOuter":0.05},"axis":{"labels":false,"title":null}}},
    "layer":[
     {"mark":{"type":"bar","stroke":"black","strokeWidth":1.5},"encoding":{"y":{"field":"m","type":"quantitative","scale":{"domain":[0,8],"nice":false},"axis":{"values":[0,2,4,6,8],"title":"Log2 CCND1","minExtent":20,"maxExtent":20,"titlePadding":1,"titleFontSize":12.5}},"fill":{"field":"g","type":"nominal","scale":{"domain":["UCHL1 LO","UCHL1 HI"],"range":["#000000","#e8352b"]},"legend":{"orient":"none","legendX":297,"legendY":278,"title":null,"symbolType":"M-1,-0.5H1V0.5H-1Z","symbolSize":324,"symbolStrokeColor":"black","symbolStrokeWidth":1,"labelFontSize":13,"labelFontStyle":"italic","labelOffset":9,"rowPadding":0}}}},
     {"mark":{"type":"rule","strokeWidth":1.5,"color":"black"},"encoding":{"y":{"field":"m","type":"quantitative"},"y2":{"field":"hi"}}},
     {"mark":{"type":"tick","thickness":1.5,"size":17,"color":"black","opacity":1},"encoding":{"y":{"field":"hi","type":"quantitative"}}}
    ]},
   {"width":101,"height":151,"title":{"text":"p <0.0001","offset":-5},"data":{"name":"pb"},"transform":[{"filter":"datum.gene=='CCND2'"}],
    "encoding":{"x":{"field":"g","type":"nominal","sort":["UCHL1 LO","UCHL1 HI"],"scale":{"type":"band","paddingInner":0.2,"paddingOuter":0.05},"axis":{"labels":false,"title":null}}},
    "layer":[
     {"mark":{"type":"bar","stroke":"black","strokeWidth":1.5},"encoding":{"y":{"field":"m","type":"quantitative","scale":{"domain":[0,10],"nice":false},"axis":{"values":[0,2,4,6,8,10],"title":"Log2 CCND2","minExtent":20,"maxExtent":20,"titlePadding":1,"titleFontSize":12.5}},"fill":{"field":"g","type":"nominal","scale":{"domain":["UCHL1 LO","UCHL1 HI"],"range":["#000000","#e8352b"]},"legend":{"orient":"none","legendX":297,"legendY":278,"title":null,"symbolType":"M-1,-0.5H1V0.5H-1Z","symbolSize":324,"symbolStrokeColor":"black","symbolStrokeWidth":1,"labelFontSize":13,"labelFontStyle":"italic","labelOffset":9,"rowPadding":0}}}},
     {"mark":{"type":"rule","strokeWidth":1.5,"color":"black"},"encoding":{"y":{"field":"m","type":"quantitative"},"y2":{"field":"hi"}}},
     {"mark":{"type":"tick","thickness":1.5,"size":17,"color":"black","opacity":1},"encoding":{"y":{"field":"hi","type":"quantitative"}}}
    ]},
   {"width":101,"height":151,"title":{"text":"p = NS","offset":-5},"data":{"name":"pb"},"transform":[{"filter":"datum.gene=='CCND3'"}],
    "encoding":{"x":{"field":"g","type":"nominal","sort":["UCHL1 LO","UCHL1 HI"],"scale":{"type":"band","paddingInner":0.2,"paddingOuter":0.05},"axis":{"labels":false,"title":null}}},
    "layer":[
     {"mark":{"type":"bar","stroke":"black","strokeWidth":1.5},"encoding":{"y":{"field":"m","type":"quantitative","scale":{"domain":[0,9],"nice":false},"axis":{"values":[0,3,6,9],"title":"Log2 CCND3","minExtent":20,"maxExtent":20,"titlePadding":1,"titleFontSize":12.5}},"fill":{"field":"g","type":"nominal","scale":{"domain":["UCHL1 LO","UCHL1 HI"],"range":["#000000","#e8352b"]},"legend":{"orient":"none","legendX":297,"legendY":278,"title":null,"symbolType":"M-1,-0.5H1V0.5H-1Z","symbolSize":324,"symbolStrokeColor":"black","symbolStrokeWidth":1,"labelFontSize":13,"labelFontStyle":"italic","labelOffset":9,"rowPadding":0}}}},
     {"mark":{"type":"rule","strokeWidth":1.5,"color":"black"},"encoding":{"y":{"field":"m","type":"quantitative"},"y2":{"field":"hi"}}},
     {"mark":{"type":"tick","thickness":1.5,"size":17,"color":"black","opacity":1},"encoding":{"y":{"field":"hi","type":"quantitative"}}}
    ]},
   {"width":101,"height":151,"title":{"text":"p <0.0001","offset":-5},"data":{"name":"pb"},"transform":[{"filter":"datum.gene=='FGFR3'"}],
    "encoding":{"x":{"field":"g","type":"nominal","sort":["UCHL1 LO","UCHL1 HI"],"scale":{"type":"band","paddingInner":0.2,"paddingOuter":0.05},"axis":{"labels":false,"title":null}}},
    "layer":[
     {"mark":{"type":"bar","stroke":"black","strokeWidth":1.5},"encoding":{"y":{"field":"m","type":"quantitative","scale":{"domain":[0,6],"nice":false},"axis":{"values":[0,2,4,6],"title":"Log2 FGFR3","minExtent":20,"maxExtent":20,"titlePadding":1,"titleFontSize":12.5}},"fill":{"field":"g","type":"nominal","scale":{"domain":["UCHL1 LO","UCHL1 HI"],"range":["#000000","#e8352b"]},"legend":{"orient":"none","legendX":297,"legendY":278,"title":null,"symbolType":"M-1,-0.5H1V0.5H-1Z","symbolSize":324,"symbolStrokeColor":"black","symbolStrokeWidth":1,"labelFontSize":13,"labelFontStyle":"italic","labelOffset":9,"rowPadding":0}}}},
     {"mark":{"type":"rule","strokeWidth":1.5,"color":"black"},"encoding":{"y":{"field":"m","type":"quantitative"},"y2":{"field":"hi"}}},
     {"mark":{"type":"tick","thickness":1.5,"size":17,"color":"black","opacity":1},"encoding":{"y":{"field":"hi","type":"quantitative"}}}
    ]},
   {"width":101,"height":151,"title":{"text":"p <0.0001","offset":-5},"data":{"name":"pb"},"transform":[{"filter":"datum.gene=='MMSET'"}],
    "encoding":{"x":{"field":"g","type":"nominal","sort":["UCHL1 LO","UCHL1 HI"],"scale":{"type":"band","paddingInner":0.2,"paddingOuter":0.05},"axis":{"labels":false,"title":null}}},
    "layer":[
     {"mark":{"type":"bar","stroke":"black","strokeWidth":1.5},"encoding":{"y":{"field":"m","type":"quantitative","scale":{"domain":[0,8],"nice":false},"axis":{"values":[0,2,4,6,8],"title":"Log2 MMSET (WHSC1)","minExtent":20,"maxExtent":20,"titlePadding":1,"titleFontSize":12.5}},"fill":{"field":"g","type":"nominal","scale":{"domain":["UCHL1 LO","UCHL1 HI"],"range":["#000000","#e8352b"]},"legend":{"orient":"none","legendX":297,"legendY":278,"title":null,"symbolType":"M-1,-0.5H1V0.5H-1Z","symbolSize":324,"symbolStrokeColor":"black","symbolStrokeWidth":1,"labelFontSize":13,"labelFontStyle":"italic","labelOffset":9,"rowPadding":0}}}},
     {"mark":{"type":"rule","strokeWidth":1.5,"color":"black"},"encoding":{"y":{"field":"m","type":"quantitative"},"y2":{"field":"hi"}}},
     {"mark":{"type":"tick","thickness":1.5,"size":17,"color":"black","opacity":1},"encoding":{"y":{"field":"hi","type":"quantitative"}}}
    ]}
  ]}
]},
{"spacing":5,
 "title":{"text":"C","anchor":"start","frame":"bounds","fontSize":20,"dx":5,"offset":1},
 "hconcat":[
  {"width":148,"height":147,"title":{"text":"CCND1","subtitle":"R²=0.06","fontStyle":"italic","offset":-16},"data":{"name":"pc"},
   "transform":[{"window":[{"op":"row_number","as":"i"}],"sort":[{"field":"u","order":"ascending"}]}],
   "encoding":{"x":{"field":"i","type":"quantitative","scale":{"domain":[0,181],"nice":false},"axis":{"labels":false,"ticks":false,"title":null}}},
   "layer":[
    {"mark":{"type":"square","size":9,"color":"black","opacity":1},"encoding":{"y":{"field":"a","type":"quantitative","scale":{"domain":[0,15],"nice":false},"axis":{"values":[0,5,10,15],"title":"Log2 expression","minExtent":19,"maxExtent":19,"titlePadding":1}}}},
    {"mark":{"type":"line","color":"#e8352b","strokeWidth":2.5},"encoding":{"y":{"field":"u","type":"quantitative"}}}
   ]},
  {"width":148,"height":147,"title":{"text":"CCND2","subtitle":"R²=0.03","fontStyle":"italic","offset":-16},"data":{"name":"pc"},
   "transform":[{"window":[{"op":"row_number","as":"i"}],"sort":[{"field":"u","order":"ascending"}]}],
   "encoding":{"x":{"field":"i","type":"quantitative","scale":{"domain":[0,181],"nice":false},"axis":{"labels":false,"ticks":false,"title":null}}},
   "layer":[
    {"mark":{"type":"square","size":9,"color":"black","opacity":1},"encoding":{"y":{"field":"b","type":"quantitative","scale":{"domain":[0,15],"nice":false},"axis":{"values":[0,5,10,15],"title":"Log2 expression","minExtent":19,"maxExtent":19,"titlePadding":1}}}},
    {"mark":{"type":"line","color":"#e8352b","strokeWidth":2.5},"encoding":{"y":{"field":"u","type":"quantitative"}}}
   ]},
  {"width":148,"height":147,"title":{"text":"FGFR3","subtitle":"R²=0.09","fontStyle":"italic","offset":-16},"data":{"name":"pc"},
   "transform":[{"window":[{"op":"row_number","as":"i"}],"sort":[{"field":"u","order":"ascending"}]}],
   "encoding":{"x":{"field":"i","type":"quantitative","scale":{"domain":[0,181],"nice":false},"axis":{"labels":false,"ticks":false,"title":null}}},
   "layer":[
    {"mark":{"type":"square","size":9,"color":"black","opacity":1},"encoding":{"y":{"field":"f","type":"quantitative","scale":{"domain":[0,15],"nice":false},"axis":{"values":[0,5,10,15],"title":"Log2 expression","minExtent":19,"maxExtent":19,"titlePadding":1}}}},
    {"mark":{"type":"line","color":"#e8352b","strokeWidth":2.5},"encoding":{"y":{"field":"u","type":"quantitative"}}}
   ]},
  {"width":148,"height":147,"title":{"text":"MMSET (WHSC1)","subtitle":"R²=0.22","offset":-16},"data":{"name":"pc"},
   "transform":[{"window":[{"op":"row_number","as":"i"}],"sort":[{"field":"u","order":"ascending"}]}],
   "encoding":{"x":{"field":"i","type":"quantitative","scale":{"domain":[0,181],"nice":false},"axis":{"labels":false,"ticks":false,"title":null}}},
   "layer":[
    {"mark":{"type":"square","size":9,"color":"black","opacity":1},"encoding":{"y":{"field":"m","type":"quantitative","scale":{"domain":[0,15],"nice":false},"axis":{"values":[0,5,10,15],"title":"Log2 expression","minExtent":19,"maxExtent":19,"titlePadding":1}}}},
    {"mark":{"type":"line","color":"#e8352b","strokeWidth":2.5},"encoding":{"y":{"field":"u","type":"quantitative"}}}
   ]}
 ]}
]
}
